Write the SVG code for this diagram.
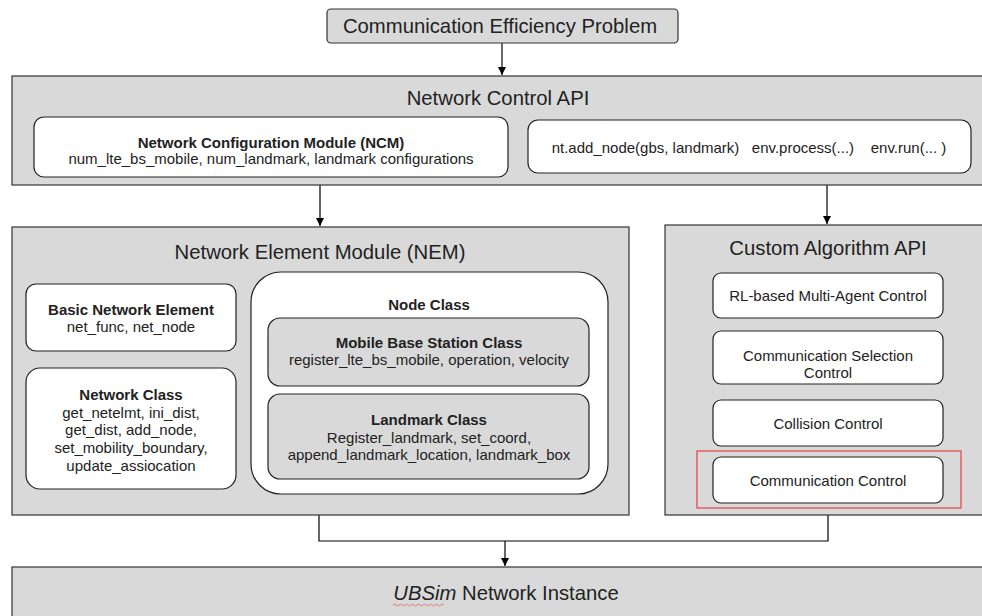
<svg xmlns="http://www.w3.org/2000/svg" width="982" height="616" viewBox="0 0 982 616">
<defs>
<marker id="arr" viewBox="0 0 10 10" refX="10" refY="5" markerWidth="8" markerHeight="8" markerUnits="userSpaceOnUse" orient="auto">
<path d="M0,0 L10,5 L0,10 z" fill="#000"/>
</marker>
<style>
text{font-family:"Liberation Sans",Arial,sans-serif;fill:#222;text-anchor:middle}
.big{font-size:20.3px}
.sm{font-size:15px}
.b{font-weight:bold}
.grp{fill:#d9d9d9;stroke:#333;stroke-width:1.2}
.wb{fill:#fff;stroke:#222;stroke-width:1.2}
.gb{fill:#d9d9d9;stroke:#222;stroke-width:1.2}
.con{fill:none;stroke:#000;stroke-width:1.2}
</style>
</defs>
<rect width="982" height="616" fill="#fff"/>

<g id="connectors">
<line class="con" x1="502" y1="43" x2="502" y2="75" marker-end="url(#arr)"/>
<line class="con" x1="320" y1="185" x2="320" y2="226" marker-end="url(#arr)"/>
<line class="con" x1="827" y1="185" x2="827" y2="224" marker-end="url(#arr)"/>
<polyline class="con" points="319,515 319,541 828,541 828,515"/>
<line class="con" x1="505" y1="541" x2="505" y2="566" marker-end="url(#arr)"/>
</g>

<g id="problem">
<rect class="grp" x="327" y="9" width="351" height="34" rx="4"/>
<text class="big" x="500" y="33">Communication Efficiency Problem</text>
</g>

<g id="network-control-api">
<rect class="grp" x="12" y="76" width="980" height="109"/>
<text class="big" x="498" y="105">Network Control API</text>
</g>
<g id="ncm">
<rect class="wb" x="34" y="117" width="474" height="60" rx="10"/>
<text class="sm b" x="271" y="148">Network Configuration Module (NCM)</text>
<text class="sm" x="271" y="164">num_lte_bs_mobile, num_landmark, landmark configurations</text>
</g>
<g id="api-calls">
<rect class="wb" x="528" y="120" width="443" height="53" rx="10"/>
<text class="sm" x="749" y="153" xml:space="preserve">nt.add_node(gbs, landmark)   env.process(...)    env.run(... )</text>
</g>

<g id="nem">
<rect class="grp" x="12" y="227" width="617" height="288"/>
<text class="big" x="320" y="259">Network Element Module (NEM)</text>
</g>
<g id="basic-network-element">
<rect class="wb" x="26" y="284" width="210" height="67" rx="10"/>
<text class="sm b" x="131" y="315">Basic Network Element</text>
<text class="sm" x="131" y="332">net_func, net_node</text>
</g>
<g id="network-class">
<rect class="wb" x="26" y="368" width="210" height="121" rx="14"/>
<text class="sm b" x="131" y="400">Network Class</text>
<text class="sm" x="131" y="418">get_netelmt, ini_dist,</text>
<text class="sm" x="131" y="435">get_dist, add_node,</text>
<text class="sm" x="131" y="453">set_mobility_boundary,</text>
<text class="sm" x="131" y="471">update_assiocation</text>
</g>
<g id="node-class">
<rect class="wb" x="251" y="272" width="357" height="222" rx="30"/>
<text class="sm b" x="429" y="310">Node Class</text>
</g>
<g id="mobile-bs-class">
<rect class="gb" x="268" y="318" width="321" height="68" rx="12"/>
<text class="sm b" x="429" y="348">Mobile Base Station Class</text>
<text class="sm" x="429" y="365">register_lte_bs_mobile, operation, velocity</text>
</g>
<g id="landmark-class">
<rect class="gb" x="268" y="394" width="321" height="85" rx="12"/>
<text class="sm b" x="429" y="425">Landmark Class</text>
<text class="sm" x="429" y="443">Register_landmark, set_coord,</text>
<text class="sm" x="429" y="460">append_landmark_location, landmark_box</text>
</g>

<g id="custom-algorithm-api">
<rect class="grp" x="665" y="225" width="330" height="290"/>
<text class="big" x="828" y="255">Custom Algorithm API</text>
</g>
<g id="rl-control">
<rect class="wb" x="713" y="273" width="230" height="45" rx="8"/>
<text class="sm" x="828" y="301">RL-based Multi-Agent Control</text>
</g>
<g id="comm-selection-control">
<rect class="wb" x="713" y="331" width="230" height="53" rx="8"/>
<text class="sm" x="828" y="361">Communication Selection</text>
<text class="sm" x="828" y="378">Control</text>
</g>
<g id="collision-control">
<rect class="wb" x="713" y="400" width="230" height="46" rx="8"/>
<text class="sm" x="828" y="429">Collision Control</text>
</g>
<g id="comm-control">
<rect x="697" y="451" width="264" height="57" fill="none" stroke="#e84040" stroke-width="1.2"/>
<rect class="wb" x="713" y="457" width="230" height="46" rx="8"/>
<text class="sm" x="828" y="486">Communication Control</text>
</g>

<g id="ubsim">
<rect class="grp" x="12" y="567" width="980" height="60"/>
<text class="big" x="506" y="600"><tspan font-style="italic">UBSim</tspan> Network Instance</text>
<path d="M393,605 q1.5,-2 3,0 t3,0 t3,0 t3,0 t3,0 t3,0 t3,0 t3,0 t3,0 t3,0 t3,0 t3,0 t3,0 t3,0 t3,0 t3,0 t3,0" fill="none" stroke="#e06060" stroke-width="0.8"/>
</g>
</svg>
